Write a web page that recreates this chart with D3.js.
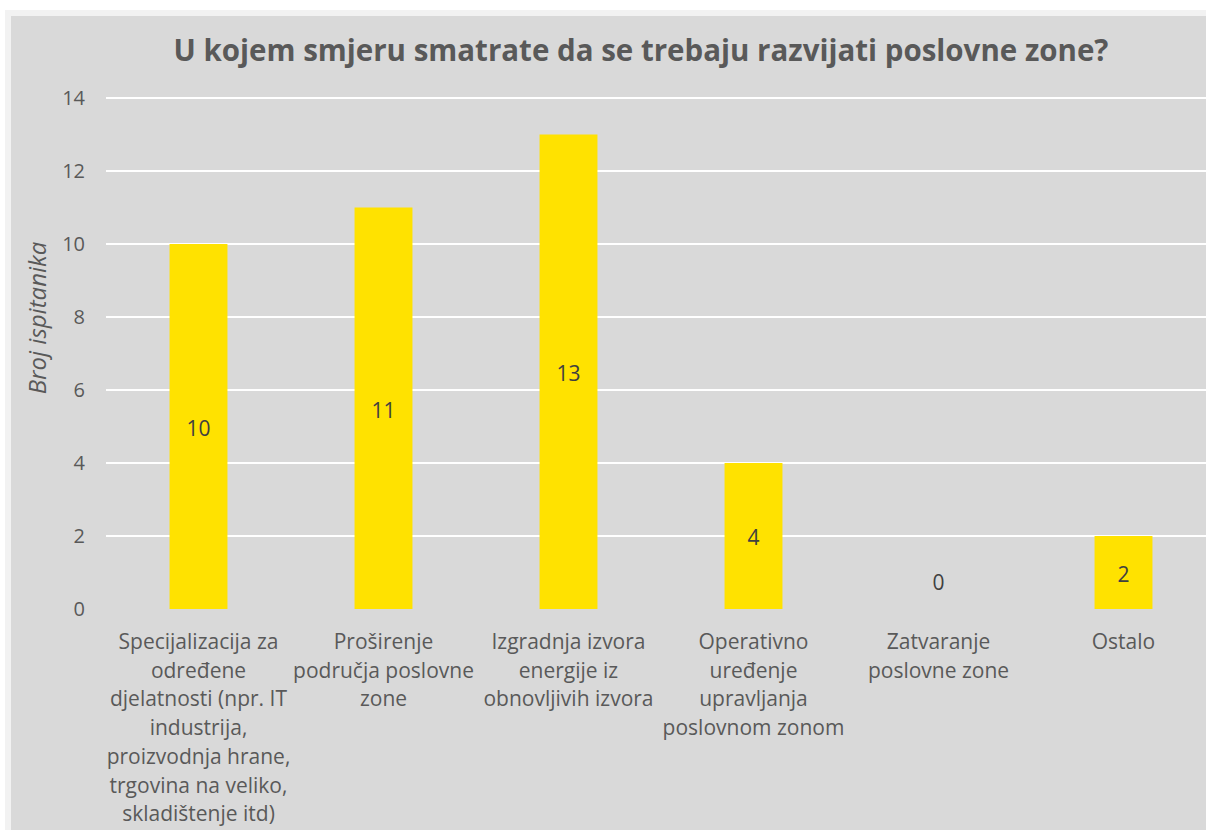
<!DOCTYPE html>
<html>
<head>
<meta charset="utf-8">
<script src="https://cdn.jsdelivr.net/npm/d3@7"></script>
<style>
  html, body { margin: 0; padding: 0; background: #fff; }
  svg { display: block; }
  text { font-family: "Open Sans", "Liberation Sans", sans-serif; }
</style>
</head>
<body>
<script>
// data
var categories = ["spec", "prosirenje", "izgradnja", "operativno", "zatvaranje", "ostalo"];
var categoryLabels = [
  ["Specijalizacija za", "određene", "djelatnosti (npr. IT", "industrija,", "proizvodnja hrane,", "trgovina na veliko,", "skladištenje itd)"],
  ["Proširenje", "područja poslovne", "zone"],
  ["Izgradnja izvora", "energije iz", "obnovljivih izvora"],
  ["Operativno", "uređenje", "upravljanja", "poslovnom zonom"],
  ["Zatvaranje", "poslovne zone"],
  ["Ostalo"]
];
var counts = [10, 11, 13, 4, 0, 2];
var yTicks = [0, 2, 4, 6, 8, 10, 12, 14];
var titleText = "U kojem smjeru smatrate da se trebaju razvijati poslovne zone?";
var yTitle = "Broj ispitanika";

var W = 1206, H = 830;
var svg = d3.select("body").append("svg").attr("width", W).attr("height", H);

// frame
svg.append("rect").attr("x", 5).attr("y", 10).attr("width", W).attr("height", H)
  .attr("fill", "#f2f2f2");
svg.append("rect").attr("x", 11).attr("y", 16).attr("width", W).attr("height", H)
  .attr("fill", "#d9d9d9");

var plot = { left: 106, right: 1216, top: 98, bottom: 609 };

var x = d3.scaleBand().domain(categories).range([plot.left, plot.right]).paddingInner(0.687).paddingOuter(0.3435);
var y = d3.scaleLinear().domain([0, 14]).range([plot.bottom, plot.top]);

// title
svg.append("text").attr("x", 641).attr("y", 61)
  .attr("text-anchor", "middle")
  .attr("font-size", 29.5).attr("font-weight", "bold")
  .attr("fill", "#595959")
  .text(titleText);

// gridlines
svg.append("g").selectAll("line").data(yTicks.filter(function(d){ return d > 0; }))
  .enter().append("line")
  .attr("x1", plot.left).attr("x2", W)
  .attr("y1", function(d){ return y(d); }).attr("y2", function(d){ return y(d); })
  .attr("stroke", "#ffffff").attr("stroke-width", 2);

// y axis
var yAxis = svg.append("g").attr("transform", "translate(" + (plot.left - 21) + ",0)")
  .call(d3.axisLeft(y).tickValues(yTicks).tickSize(0).tickPadding(0));
yAxis.select(".domain").remove();
yAxis.selectAll("text").attr("font-size", 20).attr("fill", "#595959")
  .attr("font-family", "'Open Sans', sans-serif");

svg.append("text")
  .attr("transform", "translate(46,318) rotate(-90)")
  .attr("text-anchor", "middle")
  .attr("font-size", 24).attr("font-style", "italic")
  .attr("fill", "#595959")
  .text(yTitle);

// bars
svg.append("g").selectAll("rect").data(counts).enter().append("rect")
  .attr("x", function(d, i){ return x(categories[i]); })
  .attr("y", function(d){ return y(d); })
  .attr("width", x.bandwidth())
  .attr("height", function(d){ return y(0) - y(d); })
  .attr("fill", "#ffe200");

// value labels
svg.append("g").selectAll("text").data(counts).enter().append("text")
  .attr("x", function(d, i){ return x(categories[i]) + x.bandwidth() / 2; })
  .attr("y", function(d){ return d > 0 ? (y(d) + y(0)) / 2 + 2 : y(0) - 26; })
  .attr("dy", "0.35em")
  .attr("text-anchor", "middle")
  .attr("font-size", 21).attr("fill", "#404040")
  .text(function(d){ return d; });

// category labels
var cat = svg.append("g").selectAll("text").data(categoryLabels).enter().append("text")
  .attr("text-anchor", "middle")
  .attr("font-size", 21).attr("fill", "#595959")
  .attr("x", function(d, i){ return x(categories[i]) + x.bandwidth() / 2; })
  .attr("y", 649);
cat.selectAll("tspan").data(function(d){ return d; }).enter().append("tspan")
  .attr("x", function(){ return d3.select(this.parentNode).attr("x"); })
  .attr("dy", function(d, i){ return i === 0 ? 0 : 28.7; })
  .text(function(d){ return d; });
</script>
</body>
</html>
